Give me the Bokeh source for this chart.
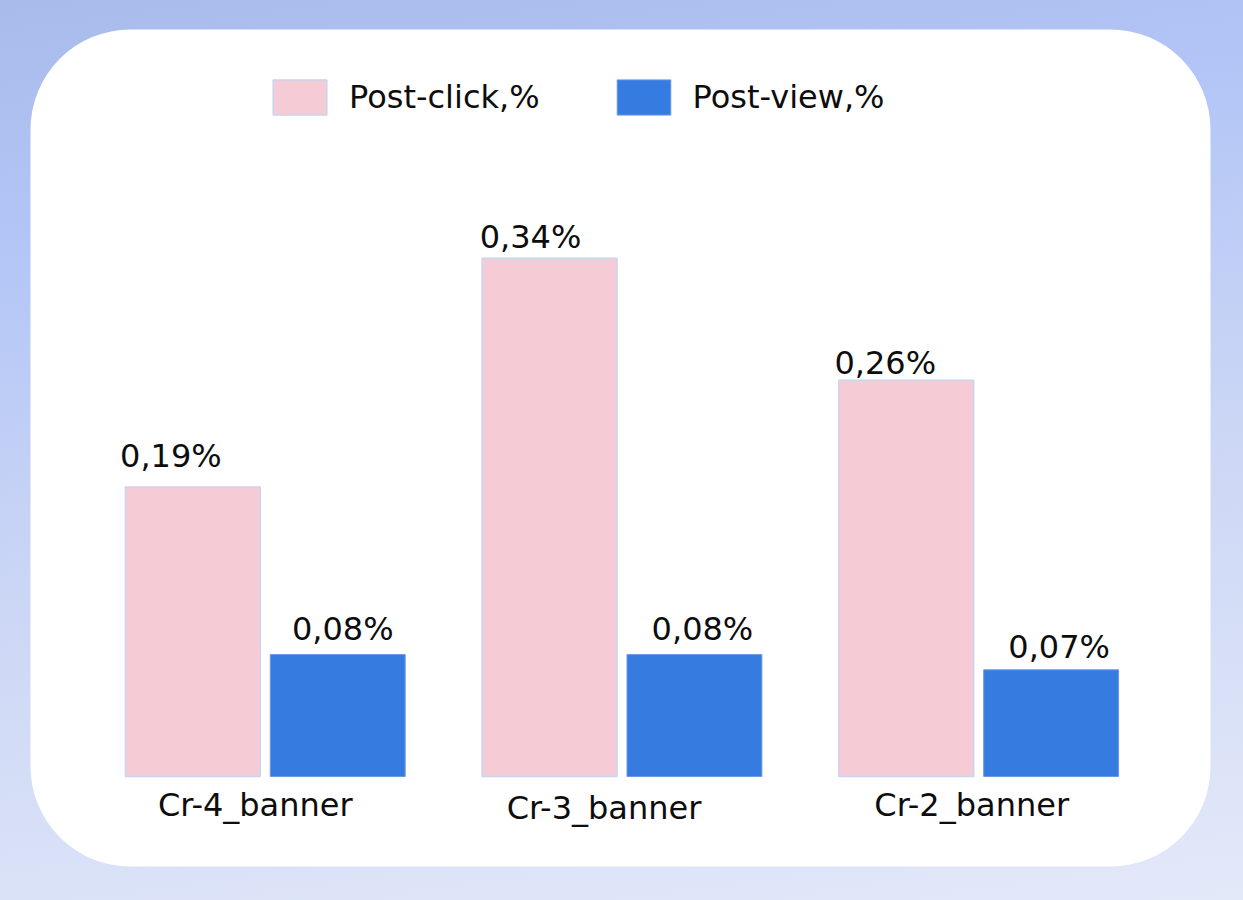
from bokeh.plotting import figure
from bokeh.models import (ColumnDataSource, FactorRange, Range1d, BoxAnnotation,
                          Legend, LegendItem, GlobalInlineStyleSheet)
from bokeh.core.properties import value
from bokeh.embed import file_html
from bokeh.resources import INLINE

# ---------------- data ----------------
categories = ["Cr-4_banner", "Cr-3_banner", "Cr-2_banner"]
series = ["Post-click,%", "Post-view,%"]
post_click = [0.19, 0.34, 0.26]
post_view = [0.08, 0.08, 0.07]

# ---------------- layout / style ----------------
W, H = 1227, 884
LEFT_BORDER = 16
PX_PER_UNIT = 1524.0          # vertical pixels per 1.00 (percent point)
BASE_FROM_TOP = 776           # pixel row of the bars' baseline
Y_END = BASE_FROM_TOP / PX_PER_UNIT
Y_START = -(H - BASE_FROM_TOP) / PX_PER_UNIT

GROUP_PAD = 0.462
RANGE_PAD = 0.7172
BAR_W = 0.931

PINK = "#f5ccd6"
PINK_LINE = "#c9d4ef"
BLUE = "#367bdf"
BLUE_LINE = "#6a98e6"
TEXT = "#0d0d0d"
FONT = "DejaVu Sans"
BASELINE_FIX = -11            # svg alphabetic baseline correction

# per-label nudges (pixels) of the value labels, as in the original slide
click_dx = [-22, -19, -21]
click_dy = [-20, -10, -6]
view_dx = [5, 8, 8]
view_dy = [-15, -15, -12]
# per-category nudges of the category labels
cat_dx = [-10, -18, -7]
cat_dy = [39, 42, 39]


def fmt(v):
    return f"{v:.2f}".replace(".", ",") + "%"


def px_to_y(px_from_top):
    return Y_END - px_from_top / PX_PER_UNIT


n_factors = len(categories) * len(series)
span_units = n_factors + (len(categories) - 1) * GROUP_PAD + 2 * RANGE_PAD
U = (W - LEFT_BORDER) / span_units


def px_to_x(px_from_left):
    return -RANGE_PAD + (px_from_left - LEFT_BORDER) / U


x_range = FactorRange(*[(c, s) for c in categories for s in series],
                      factor_padding=0.0, group_padding=GROUP_PAD,
                      range_padding=RANGE_PAD, range_padding_units="absolute")

p = figure(x_range=x_range, y_range=Range1d(Y_START, Y_END),
           width=W, height=H, output_backend="svg", toolbar_location=None,
           x_axis_location=None, y_axis_location=None,
           outline_line_color=None, background_fill_color=None,
           border_fill_color=None)
p.min_border_left = LEFT_BORDER
p.min_border_right = 0
p.min_border_top = 0
p.min_border_bottom = 0
p.xgrid.visible = False
p.ygrid.visible = False

# page background gradient
p.stylesheets = [GlobalInlineStyleSheet(css=(
    "html{min-height:100%;"
    "background:linear-gradient(172deg,#a9bbea 0%,#b2c5f6 22%,#cbd6f5 55%,#e3e9f9 100%) fixed;}"
    "body{background:transparent;}"))]

# white rounded card
card = BoxAnnotation(left=px_to_x(30), right=px_to_x(1210),
                     top=px_to_y(29), bottom=px_to_y(866),
                     fill_color="white", fill_alpha=1.0, line_alpha=0.0,
                     border_radius=100, level="underlay")
p.add_layout(card)

src_click = ColumnDataSource(dict(
    x=[(c, series[0]) for c in categories], top=post_click,
    label=[fmt(v) for v in post_click], dx=click_dx,
    dy=[d + BASELINE_FIX for d in click_dy]))
src_view = ColumnDataSource(dict(
    x=[(c, series[1]) for c in categories], top=post_view,
    label=[fmt(v) for v in post_view], dx=view_dx,
    dy=[d + BASELINE_FIX for d in view_dy]))

r_click = p.vbar(x="x", top="top", bottom=0, width=BAR_W, source=src_click,
                 fill_color=PINK, line_color=PINK_LINE, line_width=1.5)
r_view = p.vbar(x="x", top="top", bottom=0, width=BAR_W, source=src_view,
                fill_color=BLUE, line_color=BLUE_LINE, line_width=1)

for src in (src_click, src_view):
    p.text(x="x", y="top", text="label", x_offset="dx", y_offset="dy", source=src,
           text_align="center", text_baseline="alphabetic",
           text_font=value(FONT), text_font_size=value("32px"), text_color=TEXT)

src_cat = ColumnDataSource(dict(x=categories, y=[0] * len(categories), text=categories,
                                dx=cat_dx, dy=[d + BASELINE_FIX for d in cat_dy]))
p.text(x="x", y="y", text="text", source=src_cat, x_offset="dx", y_offset="dy",
       text_align="center", text_baseline="alphabetic",
       text_font=value(FONT), text_font_size=value("32px"), text_color=TEXT)

legend = Legend(items=[LegendItem(label=series[0], renderers=[r_click]),
                       LegendItem(label=series[1], renderers=[r_view])],
                location=(250, H - 119.4), orientation="horizontal",
                glyph_width=67, glyph_height=44, label_standoff=16, spacing=70,
                padding=0, margin=0, border_line_alpha=0, background_fill_alpha=0,
                label_text_font=FONT, label_text_font_size="32px",
                label_text_color=TEXT)
p.add_layout(legend)

open("out.html", "w").write(file_html(p, INLINE))
